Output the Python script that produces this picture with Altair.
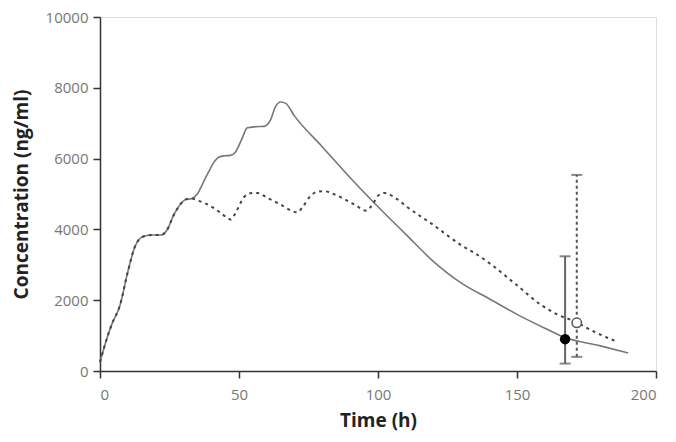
import altair as alt
import pandas as pd

# Solid curve (regimen A)
solid_t = [0, 2, 4.2, 7.2, 10, 12.6, 15.6, 19, 21.7, 24, 26.5, 28.9, 31, 33, 35, 37, 39.1, 41,
           42.7, 45, 46.9, 48.7, 51, 53, 56, 59, 61.4, 63, 65, 66.8, 70, 80, 90, 100, 110, 120,
           130, 140, 150, 160, 167.3, 180, 190]
solid_c = [250, 800, 1310, 1860, 2800, 3520, 3800, 3840, 3840, 3970, 4400, 4710, 4850, 4870, 5000,
           5300, 5630, 5900, 6040, 6080, 6090, 6180, 6550, 6870, 6900, 6910, 7100, 7450, 7600, 7560,
           7200, 6330, 5460, 4640, 3860, 3090, 2480, 2040, 1600, 1210, 945, 710, 510]

# Dotted curve (regimen B)
dot_t = [0, 2, 4.2, 7.2, 10, 12.6, 15.6, 19, 21.7, 24, 26.5, 28.9, 31, 33, 35, 38, 41, 44, 47,
         49, 51.5, 54, 56.5, 60, 65, 69, 71, 73, 75.8, 78, 80.6, 84, 88, 92, 95.7, 98, 100, 102.3,
         106, 110.7, 120, 130, 134.8, 140, 150, 158.8, 165, 170.8, 178, 185.3]
dot_c = [250, 800, 1310, 1860, 2800, 3520, 3800, 3840, 3840, 3970, 4400, 4710, 4850, 4870, 4820,
         4730, 4600, 4430, 4280, 4500, 4880, 5020, 5030, 4900, 4700, 4520, 4480, 4650, 4950, 5060,
         5080, 5000, 4850, 4680, 4530, 4700, 4950, 5030, 4900, 4620, 4120, 3550, 3330, 3050, 2420,
         1860, 1580, 1400, 1100, 850]

# Observed points with error bars
obs_group = ["A", "B"]
obs_t = [167.3, 171.5]
obs_c = [900, 1360]
obs_lo = [210, 400]
obs_hi = [3240, 5540]

solid_df = pd.DataFrame({"t": solid_t, "c": solid_c})
dot_df = pd.DataFrame({"t": dot_t, "c": dot_c})
obs_df = pd.DataFrame({"g": obs_group, "t": obs_t, "c": obs_c, "lo": obs_lo, "hi": obs_hi})

FONT = "Open Sans"
xscale = alt.Scale(domain=[0, 200], nice=False)
yscale = alt.Scale(domain=[0, 10000], nice=False)

xax = alt.Axis(values=[0, 50, 100, 150, 200], title="Time (h)", grid=False, format="d",
               labelColor="#777", labelFont=FONT, labelFontSize=15, labelPadding=9,
               titleFont=FONT, titleFontSize=19, titleFontWeight="bold", titleColor="#222",
               titlePadding=9, domainColor="#333", domainWidth=1.5, tickColor="#333",
               tickWidth=1.5, tickSize=7)
yax = alt.Axis(values=[0, 2000, 4000, 6000, 8000, 10000], title="Concentration (ng/ml)",
               grid=False, format="d", labelColor="#777", labelFont=FONT, labelFontSize=15,
               labelPadding=5, titleFont=FONT, titleFontSize=19, titleFontWeight="bold",
               titleColor="#222", titlePadding=14, domainColor="#333", domainWidth=1.5,
               tickColor="#333", tickWidth=1.5, tickSize=7)

solid = alt.Chart(solid_df).mark_line(color="#777", strokeWidth=1.6, interpolate="monotone").encode(
    x=alt.X("t:Q", scale=xscale, axis=xax),
    y=alt.Y("c:Q", scale=yscale, axis=yax),
)
dotted = alt.Chart(dot_df).mark_line(color="#444", strokeWidth=2, strokeDash=[3, 4],
                                     interpolate="monotone").encode(
    x=alt.X("t:Q", scale=xscale),
    y=alt.Y("c:Q", scale=yscale),
)

base = alt.Chart(obs_df)
rule_a = base.transform_filter(alt.datum.g == "A").mark_rule(color="#666", strokeWidth=2).encode(
    x=alt.X("t:Q", scale=xscale), y=alt.Y("lo:Q", scale=yscale), y2="hi:Q")
rule_b = base.transform_filter(alt.datum.g == "B").mark_rule(
    color="#555", strokeWidth=2, strokeDash=[3, 3]).encode(
    x=alt.X("t:Q", scale=xscale), y=alt.Y("lo:Q", scale=yscale), y2="hi:Q")
cap_hi = base.mark_tick(orient="horizontal", size=11, thickness=2, color="#555").encode(
    x=alt.X("t:Q", scale=xscale), y=alt.Y("hi:Q", scale=yscale))
cap_lo = base.mark_tick(orient="horizontal", size=11, thickness=2, color="#555").encode(
    x=alt.X("t:Q", scale=xscale), y=alt.Y("lo:Q", scale=yscale))
pt_a = base.transform_filter(alt.datum.g == "A").mark_point(
    filled=True, color="black", size=110, opacity=1).encode(
    x=alt.X("t:Q", scale=xscale), y=alt.Y("c:Q", scale=yscale))
pt_b = base.transform_filter(alt.datum.g == "B").mark_point(
    filled=True, fill="white", stroke="#555", strokeWidth=1.5, size=90, opacity=1).encode(
    x=alt.X("t:Q", scale=xscale), y=alt.Y("c:Q", scale=yscale))

chart = alt.layer(solid, dotted, rule_a, rule_b, cap_hi, cap_lo, pt_a, pt_b).properties(
    width=556, height=354,
    autosize=alt.AutoSizeParams(type="none"),
    padding={"left": 92, "top": 9, "right": 12, "bottom": 63},
).configure_view(stroke=None).configure(background="white")

chart.save("out.html", embed_options={"renderer": "svg", "actions": False})
